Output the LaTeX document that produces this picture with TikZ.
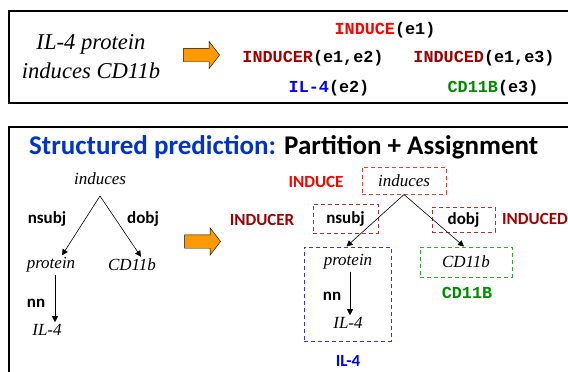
\documentclass[tikz,border=0pt]{standalone}
\usepackage{fontspec}
\setmainfont{Liberation Serif}
\setsansfont{Carlito}
\setmonofont{Liberation Mono}
\usetikzlibrary{arrows.meta,shapes.arrows}
\definecolor{indred}{RGB}{255,0,0}
\definecolor{argred}{RGB}{160,0,0}
\definecolor{entblue}{RGB}{0,0,255}
\definecolor{entgreen}{RGB}{0,140,0}
\definecolor{titleblue}{RGB}{0,51,204}
\definecolor{shiftorange}{RGB}{255,153,0}
\definecolor{indbox}{RGB}{235,60,60}
\definecolor{argbox}{RGB}{175,50,50}
\definecolor{entbluebox}{RGB}{50,50,235}
\definecolor{entgreenbox}{RGB}{50,170,50}
\begin{document}
\begin{tikzpicture}[x=1pt,y=-1pt,
  word/.style={font=\fontsize{17}{17}\selectfont\itshape, inner sep=2pt},
  dep/.style={font=\fontsize{17}{17}\selectfont\sffamily\bfseries, inner sep=0pt},
  pred/.style={font=\fontsize{16.8}{16.8}\selectfont\ttfamily\bfseries, inner sep=0pt},
  part/.style={draw, line width=1pt, dash pattern=on 4pt off 3pt},
  arc/.style={-{Triangle[length=6pt,width=6pt]}, line width=0.6pt},
  bigarrow/.style={single arrow, draw, fill=shiftorange, minimum height=36pt,
    inner xsep=0pt, inner ysep=6.5pt, single arrow head extend=7pt,
    single arrow tip angle=105}]
\useasboundingbox (0,0) rectangle (568,372);
\draw[line width=1.5pt] (9,11) rectangle (590,103);
\draw[line width=1.5pt] (9,127) rectangle (590,400);

\node[align=center, inner sep=0pt, font=\fontsize{22.6}{29}\selectfont\itshape] (sent) at (91,57) {IL-4 protein\\induces CD11b};
\node[bigarrow] (toparrow) at (199,55) {};
\node[pred] (p1) at (385,30) {\textcolor{indred}{INDUCE}(e1)};
\node[pred] (p2) at (313,58) {\textcolor{argred}{INDUCER}(e1,e2)};
\node[pred] (p3) at (484,58) {\textcolor{argred}{INDUCED}(e1,e3)};
\node[pred] (p4) at (329,88) {\textcolor{entblue}{IL-4}(e2)};
\node[pred] (p5) at (493,88) {\textcolor{entgreen}{CD11B}(e3)};

\node[anchor=west, inner sep=0pt, font=\fontsize{27}{27}\selectfont\sffamily\bfseries] (title) at (29,147) {\textcolor{titleblue}{Structured prediction:} Partition + Assignment};

\node[word] (lind) at (100,179) {induces};
\coordinate (lapex) at (100,196);
\node[word] (lprot) at (51,265) {protein};
\node[word] (lcd) at (132,265) {CD11b};
\node[word] (lil) at (47,330) {IL-4};
\node[dep] (lnsubj) at (47,219) {nsubj};
\node[dep] (ldobj) at (143,219) {dobj};
\node[dep] (lnn) at (36,303) {nn};
\draw[arc] (lapex) -- ([xshift=11pt]lprot.north);
\draw[arc] (lapex) -- ([xshift=9pt]lcd.north);
\draw[arc] ([xshift=4pt]lprot.south) -- ([xshift=8pt]lil.north);

\node[bigarrow] (midarrow) at (200,241.5) {};

\node[dep, indred] (rinduce) at (316,182) {INDUCE};
\node[word, part, draw=indbox, minimum width=84pt, minimum height=27pt] (rind) at (404,180.5) {induces};
\node[dep, argred] (rinducer) at (262,220) {INDUCER};
\node[dep, part, draw=argbox, minimum width=65pt, minimum height=29pt] (rnsubj) at (345.5,218.5) {nsubj};
\node[dep, part, draw=argbox, minimum width=63pt, minimum height=25pt] (rdobj) at (463.5,219.5) {dobj};
\node[dep, argred, anchor=west] (rinduced) at (502,219) {INDUCED};
\node[part, draw=entbluebox, minimum width=87pt, minimum height=94pt] (rilbox) at (347.5,294) {};
\node[word] (rprot) at (348,262) {protein};
\node[word] (ril) at (348,323) {IL-4};
\node[dep] (rnn) at (332,296) {nn};
\node[word, part, draw=entgreenbox, minimum width=92pt, minimum height=30pt] (rcd) at (466,262) {CD11b};
\node[pred, entgreen] (rcdlab) at (467,293) {CD11B};
\node[dep, entblue] (rillab) at (348,361) {IL-4};
\draw[arc] (rind.south) -- ([xshift=-1pt]rilbox.north);
\draw[arc] (rind.south) -- ([xshift=-2pt]rcd.north);
\draw[arc] ([xshift=2pt]rprot.south) -- ([xshift=2pt]ril.north);
\end{tikzpicture}
\end{document}
